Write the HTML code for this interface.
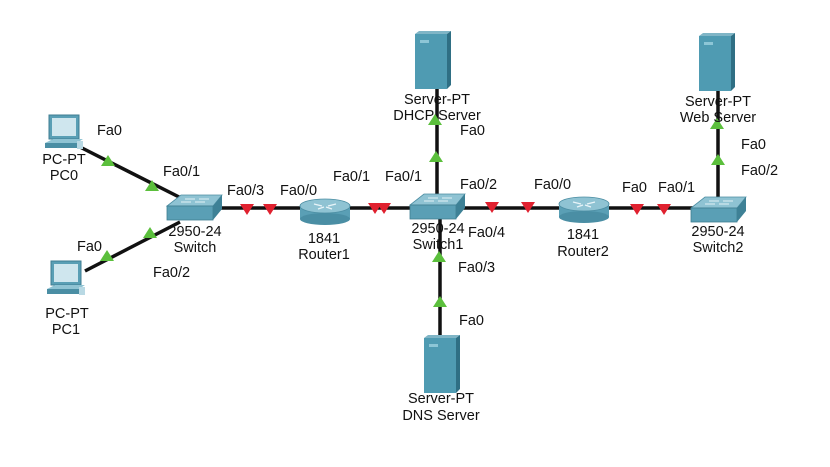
<!DOCTYPE html>
<html><head><meta charset="utf-8"><style>
html,body{margin:0;padding:0;background:#fff;}
svg{display:block;}
text{font-family:"Liberation Sans",Arial,sans-serif;font-size:14.5px;fill:#111;}
.c{text-anchor:middle;}
</style></head><body>
<svg width="830" height="467" viewBox="0 0 830 467" xmlns="http://www.w3.org/2000/svg">
<defs>
<g id="sw">
  <polygon points="14,0 55,0 46,11 0,11" fill="#8fc3d3" stroke="#4c8ea3" stroke-width="0.8"/>
  <rect x="0" y="11" width="46" height="14" fill="#5a9fb5" stroke="#3f7e92" stroke-width="0.8"/>
  <polygon points="46,11 55,0 55,14 46,25" fill="#3e8196"/>
  <path d="M18,4 h10 M32,4 h10 M14,7 h10 M28,7 h10" stroke="#e0f0f5" stroke-width="1"/>
</g>
<g id="rt">
  <rect x="0" y="8" width="50" height="13" fill="#5a9fb5"/>
  <ellipse cx="25" cy="21" rx="25" ry="6" fill="#4a8ea4"/>
  <ellipse cx="25" cy="8" rx="25" ry="7" fill="#8fc3d3" stroke="#4c8ea3" stroke-width="0.8"/>
  <path d="M14,6 l8,2 M36,6 l-8,2 M18,11 l6,-2 M32,11 l-6,-2" stroke="#e8f4f8" stroke-width="1.2"/>
</g>
<g id="srv">
  <polygon points="0,3 4,0 36,0 32,3" fill="#7fb5c6"/>
  <rect x="0" y="3" width="32" height="55" fill="#4f9bb2"/>
  <polygon points="32,3 36,0 36,54 32,58" fill="#2f6f84"/>
  <rect x="5" y="9" width="9" height="3" fill="#8dc6d6"/>
</g>
<g id="pc">
  <rect x="4" y="0" width="30" height="24" fill="#5a9fb5" stroke="#3f7e92"/>
  <rect x="7" y="3" width="24" height="18" fill="#cfe6ee"/>
  <polygon points="0,28 32,28 38,24 8,24" fill="#8fc3d3"/>
  <rect x="0" y="28" width="32" height="5" fill="#4a8ea4"/>
  <rect x="32" y="26" width="6" height="8" fill="#b9d9e4"/>
</g>
<polygon id="gt" points="0,-6 7,5 -7,5" fill="#5bbf3c"/>
<polygon id="rd" points="-7,-5 7,-5 0,6" fill="#e0212f"/>
</defs>

<g stroke="#111" stroke-width="3.5" fill="none">
  <line x1="78" y1="146" x2="185" y2="200"/>
  <line x1="85" y1="271" x2="180" y2="222"/>
  <line x1="215" y1="208" x2="305" y2="208"/>
  <line x1="345" y1="208" x2="415" y2="208"/>
  <line x1="460" y1="208" x2="565" y2="208"/>
  <line x1="605" y1="208" x2="700" y2="208"/>
  <line x1="437" y1="85" x2="437" y2="200"/>
  <line x1="440" y1="215" x2="440" y2="335"/>
  <line x1="718" y1="85" x2="718" y2="200"/>
</g>

<use href="#pc" x="45" y="115"/>
<use href="#pc" x="47" y="261"/>
<use href="#sw" x="167" y="195"/>
<use href="#rt" x="300" y="198"/>
<use href="#sw" x="410" y="194"/>
<use href="#rt" x="559" y="196"/>
<use href="#sw" x="691" y="197"/>
<use href="#srv" x="415" y="31"/>
<use href="#srv" x="699" y="33"/>
<use href="#srv" x="424" y="335"/>

<use href="#gt" x="108" y="161"/>
<use href="#gt" x="152" y="186"/>
<use href="#gt" x="107" y="256"/>
<use href="#gt" x="150" y="233"/>
<use href="#gt" x="435" y="120"/>
<use href="#gt" x="436" y="157"/>
<use href="#gt" x="439" y="257"/>
<use href="#gt" x="440" y="302"/>
<use href="#gt" x="717" y="124"/>
<use href="#gt" x="718" y="160"/>
<use href="#rd" x="247" y="209"/>
<use href="#rd" x="270" y="209"/>
<use href="#rd" x="375" y="208"/>
<use href="#rd" x="384" y="208"/>
<use href="#rd" x="492" y="207"/>
<use href="#rd" x="528" y="207"/>
<use href="#rd" x="637" y="209"/>
<use href="#rd" x="664" y="209"/>

<text class="c" x="64" y="164">PC-PT</text>
<text class="c" x="64" y="180">PC0</text>
<text class="c" x="67" y="318">PC-PT</text>
<text class="c" x="66" y="334">PC1</text>
<text class="c" x="195" y="236">2950-24</text>
<text class="c" x="195" y="252">Switch</text>
<text class="c" x="324" y="243">1841</text>
<text class="c" x="324" y="259">Router1</text>
<text class="c" x="438" y="233">2950-24</text>
<text class="c" x="438" y="249">Switch1</text>
<text class="c" x="583" y="239">1841</text>
<text class="c" x="583" y="256">Router2</text>
<text class="c" x="718" y="236">2950-24</text>
<text class="c" x="718" y="252">Switch2</text>
<text class="c" x="437" y="104">Server-PT</text>
<text class="c" x="437" y="120">DHCP Server</text>
<text class="c" x="718" y="106">Server-PT</text>
<text class="c" x="718" y="122">Web Server</text>
<text class="c" x="441" y="403">Server-PT</text>
<text class="c" x="441" y="420">DNS Server</text>

<text x="97" y="135">Fa0</text>
<text x="163" y="176">Fa0/1</text>
<text x="227" y="195">Fa0/3</text>
<text x="280" y="195">Fa0/0</text>
<text x="333" y="181">Fa0/1</text>
<text x="385" y="181">Fa0/1</text>
<text x="460" y="189">Fa0/2</text>
<text x="534" y="189">Fa0/0</text>
<text x="622" y="192">Fa0</text>
<text x="658" y="192">Fa0/1</text>
<text x="468" y="237">Fa0/4</text>
<text x="458" y="272">Fa0/3</text>
<text x="459" y="325">Fa0</text>
<text x="460" y="135">Fa0</text>
<text x="741" y="149">Fa0</text>
<text x="741" y="175">Fa0/2</text>
<text x="77" y="251">Fa0</text>
<text x="153" y="277">Fa0/2</text>
</svg>
</body></html>
